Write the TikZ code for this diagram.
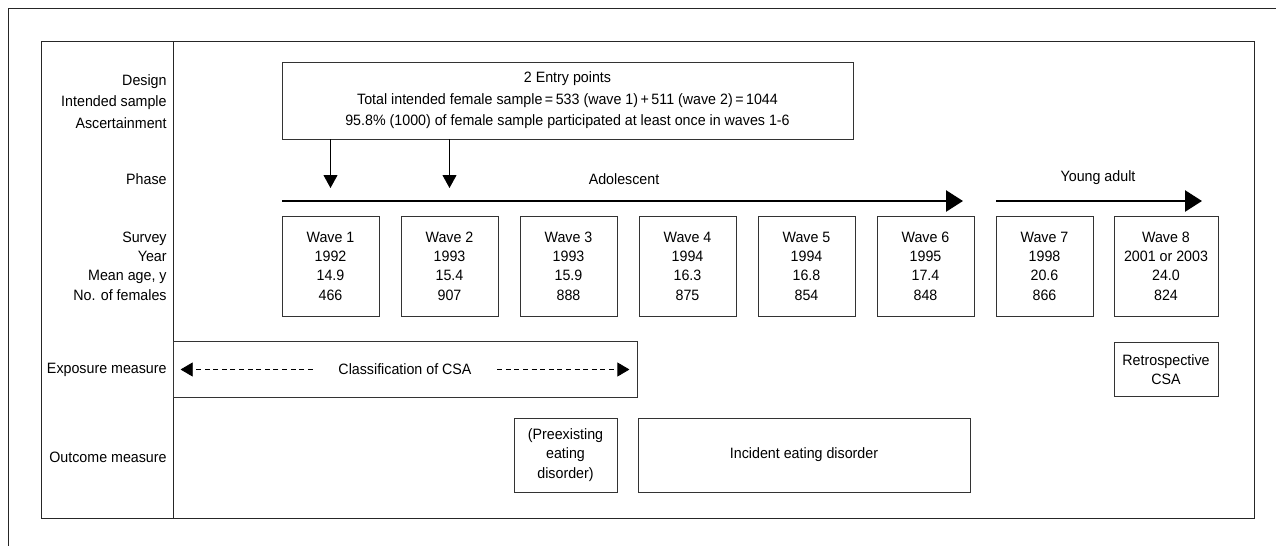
\documentclass[tikz,border=0pt]{standalone}
\usepackage{fontspec}
\setmainfont{Liberation Sans}[FakeStretch=0.95]
\usetikzlibrary{arrows.meta}

\begin{document}
\begin{tikzpicture}[x=1pt,y=-1pt,
	font=\fontsize{15}{19.3}\selectfont,
	line width=0.8pt,
	wave/.style={draw=black!80, align=center, minimum width=97pt, minimum height=100pt, inner sep=0pt},
	box/.style={draw=black!80, align=center, inner sep=0pt},
	lbl/.style={anchor=east, align=right, inner sep=0pt},
	phasearrow/.style={line width=2.6pt, -{Triangle[width=21pt,length=17pt]}},
	entry/.style={line width=0.9pt, -{Triangle[width=14pt,length=13pt]}},
	dasharrow/.style={line width=0.7pt, dash pattern=on 5pt off 3.6pt, -{Triangle[width=14pt,length=12pt]}},
	node distance=119pt]
	 \useasboundingbox (0,0) rectangle (1276,546);
	 % frames
	 \draw[black!85] (1276,8.5) -- (8.5,8.5) -- (8.5,546);
	 \draw[black!85] (41,41) rectangle (1254,518);
	 \draw[black!85] (173,41) -- (173,518);
	 % row labels
	 \node[lbl, font=\fontsize{15}{21.5}\selectfont] (ldesign) at (167,101.5) {Design\\Intended sample\\Ascertainment};
	 \node[lbl] (lphase) at (167,179) {Phase};
	 \node[lbl] (lsurvey) at (167,266) {Survey\\Year\\Mean age, y\\No. of females};
	 \node[lbl] (lexpo) at (167,370) {Exposure measure};
	 \node[lbl] (loutc) at (167,457) {Outcome measure};
	 % design
	 \node[box, minimum width=571pt, minimum height=77pt, font=\fontsize{15}{21.5}\selectfont] (design) at (567.5,100.5)
	 {2 Entry points\\Total intended female sample\,=\,533 (wave 1)\,+\,511 (wave 2)\,=\,1044\\95.8\% (1000) of female sample participated at least once in waves 1-6};
	 % surveys
	 \node[wave] (w1) at (330.5,266) {Wave 1\\1992\\14.9\\466};
	 \node[wave] (w2) [right of=w1] {Wave 2\\1993\\15.4\\907};
	 \node[wave] (w3) [right of=w2] {Wave 3\\1993\\15.9\\888};
	 \node[wave] (w4) [right of=w3] {Wave 4\\1994\\16.3\\875};
	 \node[wave] (w5) [right of=w4] {Wave 5\\1994\\16.8\\854};
	 \node[wave] (w6) [right of=w5] {Wave 6\\1995\\17.4\\848};
	 \node[wave] (w7) [right of=w6] {Wave 7\\1998\\20.6\\866};
	 \node[wave, minimum width=104pt] (w8) at (1166,266) {Wave 8\\2001 or 2003\\24.0\\824};
	 % entry points
	 \coordinate (tip) at (0,188);
	 \draw[entry] (design.south -| w1) -- (w1 |- tip);
	 \draw[entry] (design.south -| w2) -- (w2 |- tip);
	 % phases
	 \coordinate (adolA) at (282,201);
	 \coordinate (adolB) at (963,201);
	 \coordinate (youngA) at (996,201);
	 \coordinate (youngB) at (1202,201);
	 \draw[phasearrow] (adolA) -- (adolB);
	 \draw[phasearrow] (youngA) -- (youngB);
	 \node (adol) at (624,179) {Adolescent};
	 \node (young) at (1098,178) {Young adult};
	 % exposure
	 \node[box, minimum width=464pt, minimum height=56pt] (expo) at (405,369.5) {};
	 \node (csa) at (expo) {Classification of CSA};
	 \draw[dasharrow, shorten <=22pt, shorten >=8pt] (csa.west) -- (csa.west -| expo.west);
	 \draw[dasharrow, shorten <=22pt, shorten >=8pt] (csa.east) -- (csa.east -| expo.east);
	 \node[box, minimum width=104pt, minimum height=54pt] (retro) at (w8 |- expo) {Retrospective\\CSA};
	 % outcome
	 \node[box, minimum width=103pt, minimum height=74pt] (pre) at (565.5,455) {(Preexisting\\eating\\disorder)};
	 \node[box, minimum width=332pt, minimum height=74pt] (inc) at (804,455) {Incident eating disorder};
\end{tikzpicture}
\end{document}
